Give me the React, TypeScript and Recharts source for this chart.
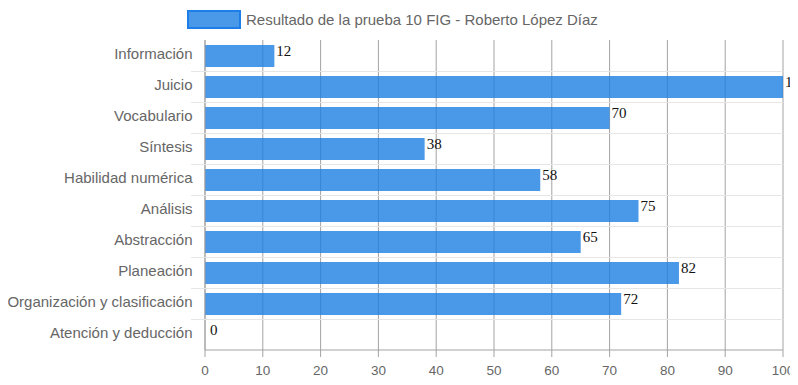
import React from 'react';
import { BarChart, Bar, XAxis, YAxis, CartesianGrid, Legend, LabelList } from 'recharts';

const categories = [
  'Información',
  'Juicio',
  'Vocabulario',
  'Síntesis',
  'Habilidad numérica',
  'Análisis',
  'Abstracción',
  'Planeación',
  'Organización y clasificación',
  'Atención y deducción',
];
const scores = [12, 100, 70, 38, 58, 75, 65, 82, 72, 0];
const xTicks = [0, 10, 20, 30, 40, 50, 60, 70, 80, 90, 100];
const seriesName = 'Resultado de la prueba 10 FIG - Roberto López Díaz';

const data = categories.map((c, i) => ({ category: c, value: scores[i] }));

const W = 790;
const H = 377;
const LEGEND_H = 31;
const MARGIN = { top: 1, right: 15, bottom: 5, left: 0 };
const Y_W = 197;
const X_H = 30;
const PLOT_LEFT = MARGIN.left + Y_W;
const PLOT_RIGHT = W - MARGIN.right;
const PLOT_TOP = MARGIN.top + LEGEND_H;
const PLOT_BOTTOM = H - MARGIN.bottom - X_H;
const BAND = (PLOT_BOTTOM - PLOT_TOP) / categories.length;

const FONT = '"Liberation Sans", Arial, Helvetica, sans-serif';
const SERIF = '"Liberation Serif", "Times New Roman", serif';
const AXIS_GRAY = '#a3a3a3';
const LIGHT_GRAY = '#e6e6e6';

const YTick = (props: any) => {
  const { y, payload } = props;
  const idx = categories.indexOf(payload.value);
  const ly = Math.round(y + BAND / 2) + 0.5;
  return (
    <g>
      {idx < categories.length - 1 && (
        <line x1={PLOT_LEFT - 14} x2={PLOT_RIGHT} y1={ly} y2={ly} stroke={LIGHT_GRAY} strokeWidth={1} />
      )}
      <text
        x={PLOT_LEFT - 12.5}
        y={y}
        dy="0.25em"
        textAnchor="end"
        fill="#666"
        fontSize={15}
        fontFamily={FONT}
      >
        {payload.value}
      </text>
    </g>
  );
};

const ValueLabel = (props: any) => {
  const { x, y, width, height, value } = props;
  const w = Math.max(0, Number(width) || 0);
  return (
    <text
      x={x + w + (w < 1 ? 5 : 2)}
      y={y + height / 2}
      fill="#111"
      fontSize={15}
      fontFamily={SERIF}
      textAnchor="start"
    >
      {String(value)}
    </text>
  );
};

const LegendContent = () => (
  <div
    style={{
      height: LEGEND_H,
      display: 'flex',
      alignItems: 'flex-start',
      paddingLeft: 179,
      paddingTop: 2,
      boxSizing: 'border-box',
    }}
  >
    <span
      style={{
        display: 'inline-block',
        width: 50,
        height: 15,
        border: '2px solid #1c7ee6',
        background: '#4a99e9',
      }}
    />
    <span
      style={{
        marginLeft: 5,
        fontSize: 15,
        lineHeight: '19px',
        color: '#666',
        fontFamily: FONT,
        whiteSpace: 'nowrap',
      }}
    >
      {seriesName}
    </span>
  </div>
);

export default function App() {
  return (
    <BarChart width={W} height={H} data={data} layout="vertical" margin={MARGIN}>
      <Legend
        verticalAlign="top"
        align="left"
        height={LEGEND_H}
        wrapperStyle={{ top: 0, left: 0, width: W, height: LEGEND_H }}
        content={() => <LegendContent />}
      />
      <CartesianGrid horizontal={false} vertical={true} stroke={AXIS_GRAY} strokeDasharray="" />
      <XAxis
        type="number"
        domain={[0, 100]}
        ticks={xTicks}
        height={X_H}
        tickSize={7}
        tickMargin={8}
        stroke={AXIS_GRAY}
        axisLine={{ stroke: AXIS_GRAY }}
        tickLine={{ stroke: AXIS_GRAY }}
        tick={{ fill: '#666', fontSize: 13.5, fontFamily: FONT }}
        interval={0}
      />
      <YAxis
        type="category"
        dataKey="category"
        width={Y_W}
        axisLine={{ stroke: AXIS_GRAY }}
        tickLine={false}
        tick={<YTick />}
        interval={0}
      />
      <Bar
        dataKey="value"
        name={seriesName}
        fill="#1d7ee2"
        fillOpacity={0.8}
        barSize={22}
        minPointSize={0.01}
        isAnimationActive={false}
      >
        <LabelList dataKey="value" content={<ValueLabel />} />
      </Bar>
    </BarChart>
  );
}
